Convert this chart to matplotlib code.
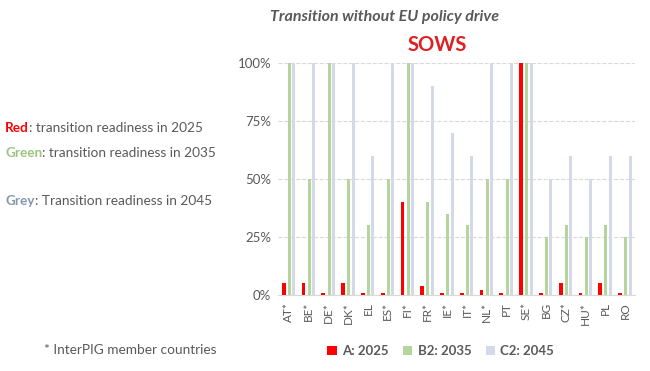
import matplotlib.pyplot as plt
import numpy as np
from matplotlib.ticker import PercentFormatter

plt.rcParams['font.family'] = ['Lato', 'DejaVu Sans']

countries = ['AT*', 'BE*', 'DE*', 'DK*', 'EL', 'ES*', 'FI*', 'FR*', 'IE*', 'IT*',
             'NL*', 'PT', 'SE*', 'BG', 'CZ*', 'HU*', 'PL', 'RO']
a_2025 = [5, 5, 1, 5, 1, 1, 40, 4, 1, 1, 2, 1, 100, 1, 5, 1, 5, 1]
b2_2035 = [100, 50, 100, 50, 30, 50, 100, 40, 35, 30, 50, 50, 100, 25, 30, 25, 30, 25]
c2_2045 = [100, 100, 100, 100, 60, 100, 100, 90, 70, 60, 100, 100, 100, 50, 60, 50, 60, 60]

red = '#ff0000'
green = '#b4d69c'
grey = '#d3d9e6'
txt = '#595959'

fig = plt.figure(figsize=(6.5, 3.71), dpi=100)
ax = fig.add_axes([278 / 650, 1 - 295 / 371, 357 / 650, 232 / 371])

x = np.arange(len(countries))
ax.bar(x - 0.26, a_2025, width=0.19, color=red, label='A: 2025', zorder=3)
ax.bar(x + 0.03, b2_2035, width=0.15, color=green, label='B2: 2035', zorder=3)
ax.bar(x + 0.25, c2_2045, width=0.15, color=grey, label='C2: 2045', zorder=3)

ax.set_xlim(-0.55, 17.5)
ax.set_ylim(0, 100)
ax.set_yticks([0, 25, 50, 75, 100])
ax.yaxis.set_major_formatter(PercentFormatter(decimals=0))
ax.set_xticks(x)
ax.set_xticklabels(countries, rotation=90, fontsize=8.5, color=txt)
ax.tick_params(axis='y', labelsize=9.5, colors=txt, length=0, pad=5)
ax.tick_params(axis='x', length=0, pad=5)
ax.grid(axis='y', color='#d9d9d9', linestyle='--', linewidth=0.8, zorder=0)
for s in ['top', 'right', 'left']:
    ax.spines[s].set_visible(False)
ax.spines['bottom'].set_color('#d9d9d9')
for lbl in ax.get_yticklabels():
    lbl.set_clip_on(False)

fig.text(0.592, 0.955, 'Transition without EU policy drive', ha='center', va='center',
         fontsize=11.5, fontstyle='italic', fontweight='bold', color=txt)
fig.text(0.672, 0.878, 'SOWS', ha='center', va='center', fontsize=14.5,
         fontweight='bold', color='#e02020')

# side notes: coloured keyword followed by grey text
notes = [('Red', red, ': transition readiness in 2025', 1 - 128 / 371),
         ('Green', '#9bc47f', ': transition readiness in 2035', 1 - 153 / 371),
         ('Grey', '#8496b0', ': Transition readiness in 2045', 1 - 201 / 371)]
for word, col, rest, yy in notes:
    t = fig.text(0.008, yy, word, fontsize=9.8, fontweight='bold', color=col, va='center')
    ax.annotate(rest, xy=(1, 0.5), xycoords=t, va='center', ha='left',
                fontsize=9.8, color=txt)

fig.text(0.068, 1 - 350 / 371, '* InterPIG member countries', fontsize=9.8,
         color=txt, va='center')

leg = fig.legend(loc='center', bbox_to_anchor=(0.678, 1 - 351 / 371), ncol=3,
                 frameon=False, handlelength=0.7, handleheight=0.7,
                 columnspacing=1.1, handletextpad=0.4,
                 prop={'size': 9.5, 'weight': 'bold'})
for t in leg.get_texts():
    t.set_color(txt)

fig.savefig('out.png', dpi=100)
